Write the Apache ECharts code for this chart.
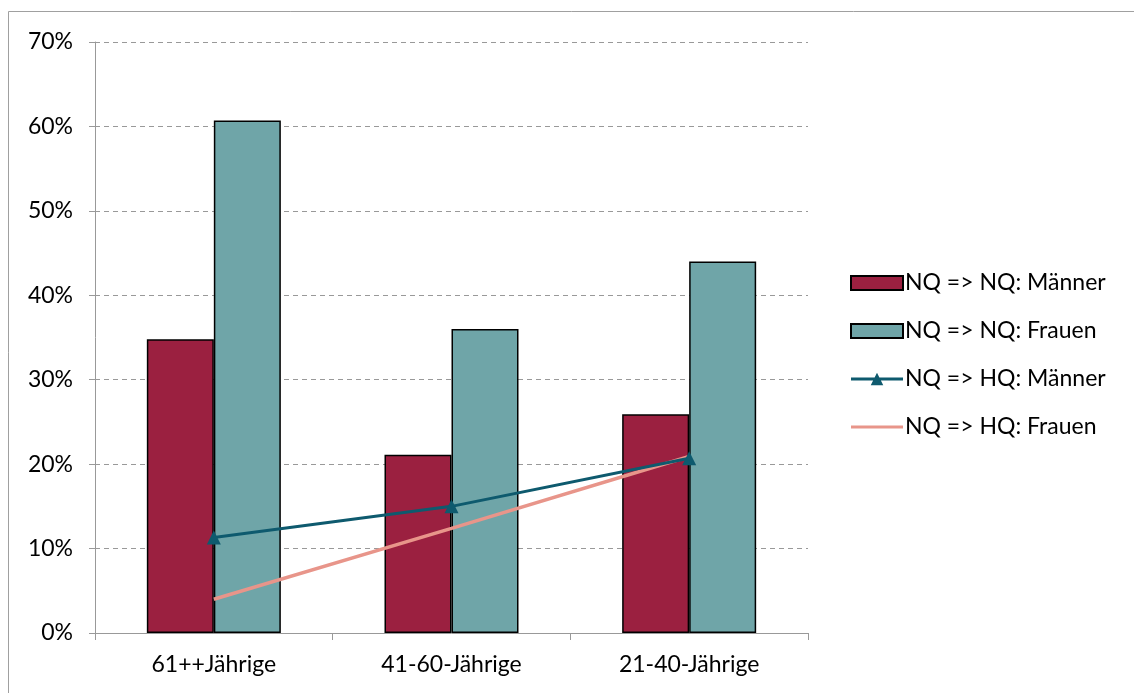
<!DOCTYPE html>
<html><head><meta charset="utf-8">
<script src="https://cdn.jsdelivr.net/npm/echarts@6/dist/echarts.min.js"></script>
<style>html,body{margin:0;padding:0;background:#fff}#c{width:1134px;height:693px}</style>
</head><body><div id="c"></div>
<script>
const categories = ['61++Jährige', '41-60-Jährige', '21-40-Jährige'];
const nqnqMaenner = [34.8, 21.1, 25.9];
const nqnqFrauen = [60.7, 36.0, 44.0];
const nqhqMaenner = [11.3, 15.0, 20.7];
const nqhqFrauen = [4.0, 12.4, 20.9];
const seriesNames = ['NQ => NQ: Männer', 'NQ => NQ: Frauen', 'NQ => HQ: Männer', 'NQ => HQ: Frauen'];

const font = 'Lato, Open Sans, sans-serif';
const chart = echarts.init(document.getElementById('c'), null, {renderer: 'canvas'});
chart.setOption({
  animation: false,
  backgroundColor: '#fff',
  graphic: [{type: 'rect', shape: {x: 8.5, y: 11.5, width: 1200, height: 800}, style: {fill: 'none', stroke: '#a0a0a0', lineWidth: 1}, z: -1}],
  grid: {left: 95, right: 326, top: 42, bottom: 60, containLabel: false},
  legend: {
    orient: 'vertical', left: 850, top: 271, itemGap: 24, itemWidth: 52, itemHeight: 14, padding: 0,
    textStyle: {fontFamily: font, fontSize: 23, color: '#000', lineHeight: 24, padding: [0,0,0,-3]},
    data: [
      {name: seriesNames[0], icon: 'rect'},
      {name: seriesNames[1], icon: 'rect'},
      {name: seriesNames[2], icon: 'path://M0,0h0.01v0.01h-0.01z M0,13.99h0.01v0.01h-0.01z M0,5.5h54v3h-54z M27,0.5L33.5,13.5L20.5,13.5z'},
      {name: seriesNames[3], icon: 'path://M0,0h0.01v0.01h-0.01z M0,13.99h0.01v0.01h-0.01z M0,5.5h54v3h-54z'}
    ]
  },
  xAxis: {
    type: 'category', data: categories, boundaryGap: true,
    axisLine: {lineStyle: {color: '#999', width: 1}},
    axisTick: {show: true, length: 7, inside: false, lineStyle: {color: '#999'}},
    axisLabel: {fontFamily: font, fontSize: 23, color: '#000', margin: 20}
  },
  yAxis: {
    type: 'value', min: 0, max: 70, interval: 10,
    axisLine: {show: true, lineStyle: {color: '#999', width: 1}},
    axisTick: {show: true, length: 6, lineStyle: {color: '#999'}},
    axisLabel: {fontFamily: font, fontSize: 23, color: '#000', margin: 22, formatter: '{value}%'},
    splitLine: {lineStyle: {color: '#999', type: [5, 4], width: 1}}
  },
  series: [
    {name: seriesNames[0], type: 'bar', data: nqnqMaenner, barWidth: 67, barGap: '0%',
     itemStyle: {color: '#9b2040', borderColor: '#000', borderWidth: 1.5}},
    {name: seriesNames[1], type: 'bar', data: nqnqFrauen, barWidth: 67, barGap: '0%',
     itemStyle: {color: '#6fa5a8', borderColor: '#000', borderWidth: 1.5}},
    {name: seriesNames[2], type: 'line', data: nqhqMaenner, symbol: 'triangle', symbolSize: 14,
     lineStyle: {color: '#0e5a6e', width: 3}, itemStyle: {color: '#0e5a6e'}, z: 5},
    {name: seriesNames[3], type: 'line', data: nqhqFrauen, symbol: 'none', showSymbol: false,
     lineStyle: {color: '#e8958a', width: 3.5}, itemStyle: {color: '#e8958a'}, z: 4}
  ]
});
</script></body></html>
